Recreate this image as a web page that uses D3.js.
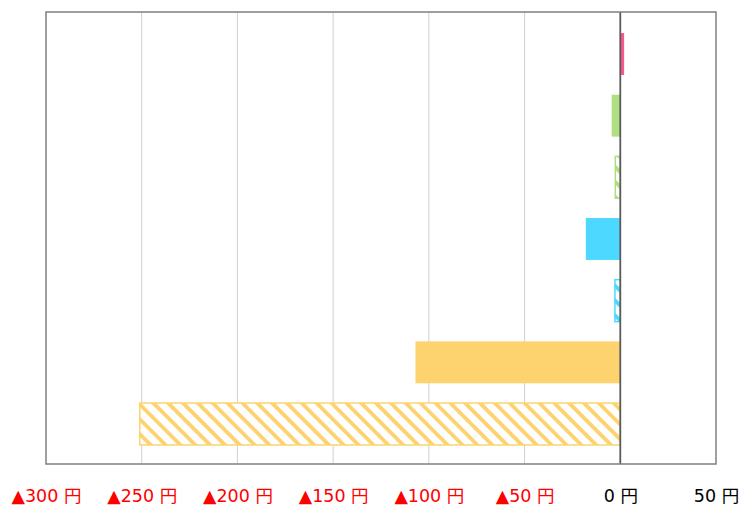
<!DOCTYPE html>
<html><head><meta charset="utf-8">
<script src="https://cdn.jsdelivr.net/npm/d3@7"></script>
<style>html,body{margin:0;padding:0;background:#fff;}</style>
</head><body>
<script>
const categories = ["項目1","項目2","項目3","項目4","項目5","項目6","項目7"];
const values = [2, -4.5, -2.6, -18, -2.8, -107, -251];
const hatched = [false, false, true, false, true, false, true];
const colors = ["#f9578a", "#afe07f", "#afe07f", "#4dd9ff", "#4dd9ff", "#fdd36f", "#fdd36f"];
const tickValues = [-300, -250, -200, -150, -100, -50, 0, 50];
const tickLabels = ["▲300 円","▲250 円","▲200 円","▲150 円","▲100 円","▲50 円","0 円","50 円"];

const W = 742, H = 506;
const pLeft = 46, pRight = 716, pTop = 12, pBottom = 464;

const svg = d3.select("body").append("svg").attr("width", W).attr("height", H);
const defs = svg.append("defs");
const x = d3.scaleLinear().domain([-300, 50]).range([pLeft, pRight]);
const y = d3.scaleBand().domain(categories).range([pTop + 1, pBottom + 1]).paddingInner(0.32).paddingOuter(0.325);

// patterns
const uniq = Array.from(new Set(colors));
uniq.forEach((c, i) => {
  const p = defs.append("pattern").attr("id", "hatch" + i)
    .attr("patternUnits", "userSpaceOnUse").attr("width", 10.5).attr("height", 10.5)
    .attr("patternTransform", "rotate(-45)");
  p.append("rect").attr("width", 10.5).attr("height", 10.5).attr("fill", "#fff");
  p.append("rect").attr("x", 0).attr("y", 0).attr("width", 3.8).attr("height", 10.5).attr("fill", c);
});
const patId = c => "url(#hatch" + uniq.indexOf(c) + ")";

// gridlines
svg.append("g").selectAll("line").data(tickValues.filter(v => v > -300 && v < 50 && v !== 0)).join("line")
  .attr("x1", d => x(d)).attr("x2", d => x(d)).attr("y1", pTop).attr("y2", pBottom)
  .attr("stroke", "#d0d0d0").attr("stroke-width", 1);

// bars
svg.append("g").selectAll("rect").data(values).join("rect")
  .attr("x", d => Math.min(x(d), x(0)))
  .attr("width", d => Math.abs(x(d) - x(0)))
  .attr("y", (d, i) => y(categories[i]))
  .attr("height", y.bandwidth())
  .attr("fill", (d, i) => hatched[i] ? patId(colors[i]) : colors[i])
  .attr("stroke", (d, i) => hatched[i] ? colors[i] : "none")
  .attr("stroke-width", 1.5);

// zero line
svg.append("line").attr("x1", x(0)).attr("x2", x(0)).attr("y1", pTop).attr("y2", pBottom)
  .attr("stroke", "#5a5a5a").attr("stroke-width", 1.8);

// border
svg.append("rect").attr("x", pLeft).attr("y", pTop).attr("width", pRight - pLeft).attr("height", pBottom - pTop)
  .attr("fill", "none").attr("stroke", "#7f7f7f").attr("stroke-width", 1.5);

// x axis labels
const axis = d3.axisBottom(x).tickValues(tickValues).tickSize(0).tickPadding(0)
  .tickFormat((d, i) => tickLabels[i]);
const ga = svg.append("g").attr("transform", `translate(0,${pBottom})`).call(axis);
ga.select(".domain").remove();
ga.selectAll("text")
  .attr("y", 38).attr("dy", 0)
  .attr("font-family", "'DejaVu Sans', 'Noto Sans CJK JP', sans-serif")
  .attr("font-size", 17.5)
  .attr("fill", d => d < 0 ? "#ff0000" : "#000");
</script>
</body></html>
